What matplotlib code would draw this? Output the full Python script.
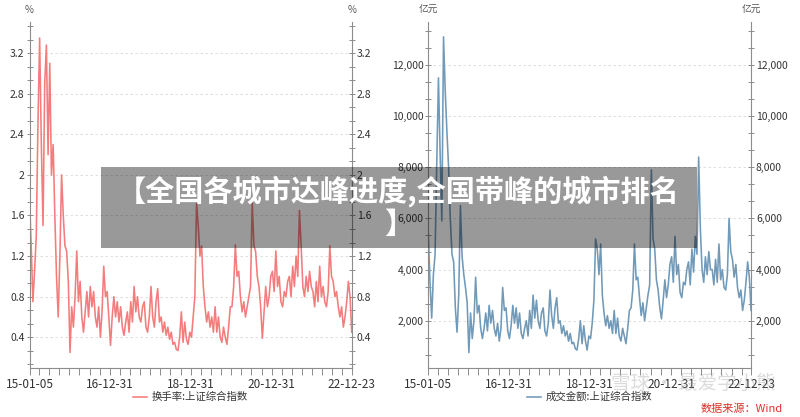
import pandas as pd
import matplotlib
matplotlib.use('Agg')
import matplotlib.pyplot as plt
from matplotlib.ticker import MultipleLocator, FuncFormatter, FixedLocator
from matplotlib.patches import Rectangle

plt.rcParams['font.family'] = ['Noto Sans CJK SC', 'DejaVu Sans']

# 两个值/月，2015-01 ~ 2022-12
start, end = '2015-01-05', '2022-12-23'
turnover = [
    1.75, 1.3, 0.75, 1.05, 1.4, 2.5, 3.35, 2.3, 1.5, 2.9, 3.28, 2.2,
    3.1, 2.0, 2.3, 1.6, 1.0, 0.6, 1.2, 2.0, 1.6, 1.3, 1.25, 0.95,
    0.25, 0.7, 0.5, 0.8, 1.25, 0.75, 0.95, 0.6, 0.45, 0.65, 0.85, 0.6,
    0.9, 0.7, 0.85, 0.6, 0.5, 0.7, 0.4, 0.65, 1.1, 0.8, 0.85, 0.6,
    0.32, 0.6, 0.8, 0.6, 0.75, 0.55, 0.7, 0.5, 0.42, 0.55, 0.65, 0.45,
    0.75, 0.55, 0.9, 0.65, 0.8, 0.6, 0.55, 0.7, 0.75, 0.5, 0.45, 0.6,
    0.9, 0.6, 0.5, 0.75, 0.88, 0.55, 0.6, 0.45, 0.55, 0.42, 0.5, 0.38,
    0.45, 0.33, 0.35, 0.28, 0.27, 0.4, 0.65, 0.35, 0.55, 0.38, 0.33, 0.45,
    0.4, 0.6, 0.8, 1.72, 1.5, 1.2, 1.3, 0.9, 0.7, 0.55, 0.65, 0.5,
    0.6, 0.45, 0.7, 0.45, 0.6, 0.4, 0.35, 0.5, 0.4, 0.33, 0.5, 0.7,
    0.7, 0.9, 1.31, 1.0, 1.05, 0.8, 0.65, 0.75, 0.6, 0.7, 0.8, 0.9,
    1.73, 1.3, 1.25, 1.0, 0.9, 0.7, 0.39, 0.65, 0.9, 0.7, 0.8, 1.0,
    1.05, 0.85, 1.25, 0.9, 1.0, 0.75, 0.7, 0.85, 0.8, 0.95, 1.0, 0.8,
    1.1, 0.9, 1.2, 1.0, 1.65, 1.3, 0.9, 0.8, 1.0, 0.85, 1.05, 0.9,
    0.85, 0.7, 0.95, 0.75, 1.1, 0.8, 0.9, 0.75, 0.7, 0.85, 1.3, 1.0,
    0.95, 0.8, 0.85, 0.7, 0.6, 0.7, 0.5, 0.6, 0.75, 0.95, 0.8, 0.45,
]
amount = [
    5400, 3500, 2100, 3800, 4600, 8200, 11500, 8500, 5900, 13100, 11000, 9400,
    8000, 6000, 4600, 4300, 2500, 1550, 3000, 6500, 4500, 3800, 3300, 2700,
    750, 2300, 1300, 2000, 3700, 2300, 2600, 1700, 1300, 1700, 2300, 1600,
    2600, 1900, 2400, 1700, 1400, 1900, 1200, 1700, 3300, 2400, 2500, 1600,
    1300, 1800, 2600, 1900, 2500, 1700, 2300, 1500, 1300, 1700, 2000, 1400,
    2400, 1700, 3000, 2100, 2800, 2000, 1700, 2300, 2500, 1600, 1400, 1900,
    3200, 2200, 1700, 2500, 2900, 1900, 2000, 1500, 1800, 1400, 1600, 1200,
    1500, 1100, 1150, 900, 850, 1300, 2000, 1100, 1800, 1200, 850, 1400,
    1300, 1900, 2800, 5200, 4800, 3800, 5000, 3000, 2300, 1800, 2200, 1700,
    2000, 1500, 2400, 1500, 2100, 1400, 1200, 1700, 1400, 1100, 1700, 2400,
    2500, 3200, 5000, 3600, 3700, 2900, 2200, 2700, 2000, 2500, 3000, 3400,
    7900, 5200, 4800, 3600, 3200, 2500, 2070, 2800, 3600, 2900, 3400, 4200,
    4500, 3500, 5300, 3800, 4200, 3100, 2900, 3500, 3400, 4000, 4300, 3400,
    4800, 3900, 5300, 4600, 8400, 5600, 4000, 3500, 4500, 3800, 4700, 4000,
    4000, 3400, 4400, 3500, 5000, 3600, 4000, 3300, 3200, 3800, 6000, 4700,
    4400, 3700, 4200, 3300, 2900, 3200, 2400, 2800, 3500, 4300, 3700, 2400,
]
major_dates = ['2015-01-05', '2016-12-31', '2018-12-31', '2020-12-31', '2022-12-23']

dates = pd.date_range(start, end, periods=len(turnover))
major = pd.to_datetime(major_dates)
minor = pd.date_range('2015-03-31', '2022-09-30', freq='QE')

fig = plt.figure(figsize=(8, 4.17), dpi=100)
ax1 = fig.add_axes([0.0369, 0.1168, 0.4028, 0.8312])
ax2 = fig.add_axes([0.5354, 0.1168, 0.4034, 0.8312])

ax1.plot(dates, turnover, color='#f47c7c', lw=1.15, label='换手率:上证综合指数')
ax2.plot(dates, amount, color='#7199b8', lw=1.15, label='成交金额:上证综合指数')

ax1.set_ylim(0.094, 3.51)
ax1.yaxis.set_major_locator(MultipleLocator(0.4))
ax1.yaxis.set_minor_locator(MultipleLocator(0.4 / 3))
ax1.yaxis.set_major_formatter(FuncFormatter(lambda v, p: f'{v:g}'))
ax2.set_ylim(137, 13695)
ax2.yaxis.set_major_locator(MultipleLocator(2000))
ax2.yaxis.set_minor_locator(MultipleLocator(2000 / 3))
ax2.yaxis.set_major_formatter(FuncFormatter(lambda v, p: f'{v:,.0f}'))

for ax, unit in [(ax1, '%'), (ax2, '亿元')]:
    ax.set_xlim(pd.Timestamp(start), pd.Timestamp(end))
    ax.xaxis.set_major_locator(FixedLocator(matplotlib.dates.date2num(major)))
    ax.xaxis.set_minor_locator(FixedLocator(matplotlib.dates.date2num(minor)))
    ax.set_xticklabels([d.strftime('%y-%m-%d') for d in major])
    ax.spines['top'].set_visible(False)
    for s in ['left', 'right', 'bottom']:
        ax.spines[s].set_color('#8c8c8c')
        ax.spines[s].set_linewidth(0.8)
    ax.tick_params(axis='y', which='both', direction='inout', length=5, width=0.7,
                   color='#8c8c8c', left=True, right=True, labelleft=True, labelright=True,
                   labelsize=7.5, labelcolor='#333333', pad=1)
    ax.tick_params(axis='x', which='both', direction='out', length=5, width=0.7,
                   color='#8c8c8c', labelsize=8.5, labelcolor='#333333', pad=2)
    ax.grid(axis='y', which='major', color='#d9d9d9', linestyle=(0, (3, 3)), linewidth=0.6)
    ax.text(0, 1.034, unit, transform=ax.transAxes, ha='center', va='center',
            fontsize=7, color='#555555')
    ax.text(1, 1.034, unit, transform=ax.transAxes, ha='center', va='center',
            fontsize=7, color='#555555')
    ax.legend(loc='center', bbox_to_anchor=(0.5, -0.083), frameon=False,
              fontsize=7.5, handlelength=1.3, handletextpad=0.5, labelcolor='#333333')

# 标题遮罩
fig.patches.append(Rectangle((101 / 800, 1 - 248 / 417), 596 / 800, 81 / 417,
                             transform=fig.transFigure, facecolor='black',
                             alpha=0.4, edgecolor='none', zorder=10))
fig.text(398.5 / 800, 1 - 207 / 417, '【全国各城市达峰进度,全国带峰的城市排名\n】',
         ha='center', va='center', multialignment='center', fontsize=21,
         fontweight='bold', color='white', linespacing=1.1, zorder=11)

fig.text(0.97, 0.08, '雪球 · 最爱学小熊', ha='right', va='center', fontsize=14,
         color='#999999', alpha=0.35, zorder=12)
fig.text(0.978, 0.02, '数据来源：Wind', ha='right', va='center', fontsize=8,
         color='#e0302a', zorder=13)

fig.savefig('out.png', dpi=100)
